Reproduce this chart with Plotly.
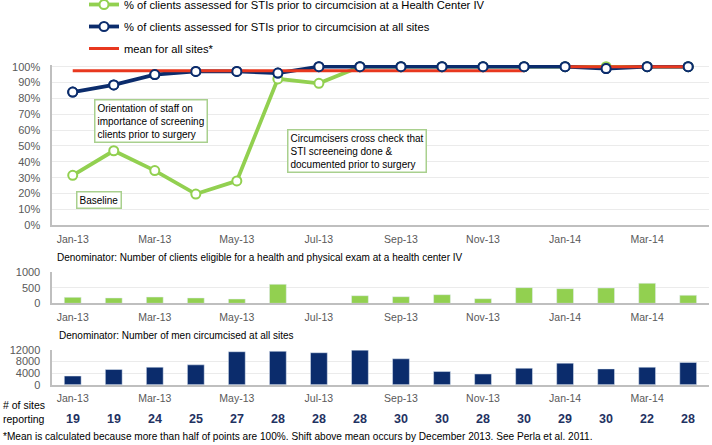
import plotly.graph_objects as go

# ---------------- data ----------------
months = ["Jan-13", "Feb-13", "Mar-13", "Apr-13", "May-13", "Jun-13", "Jul-13", "Aug-13",
          "Sep-13", "Oct-13", "Nov-13", "Dec-13", "Jan-14", "Feb-14", "Mar-14", "Apr-14"]
tick_months = ["Jan-13", "Mar-13", "May-13", "Jul-13", "Sep-13", "Nov-13", "Jan-14", "Mar-14"]

pct_ticks = [0, 10, 20, 30, 40, 50, 60, 70, 80, 90, 100]
pct_tick_labels = ["0%", "10%", "20%", "30%", "40%", "50%", "60%", "70%", "80%", "90%", "100%"]

hc_pct = [31.5, 47, 34.5, 19.7, 28, 92.3, 89.5, 100, 100, 100, 100, 100, 100, 100, 100, 100]
all_pct = [84, 88.5, 95, 97, 97, 96, 100, 100, 100, 100, 100, 100, 100, 98.8, 100, 100]
mean_pct = [97.5, 97.5, 97.5, 97.5, 97.5, 97.5, 97.5, 97.5, 97.5, 97.5, 97.5, 97.5,
            100, 100, 100, 100]
mean_period = ["2013"] * 12 + ["2014"] * 4

hc_eligible = [190, 170, 200, 170, 137, 607, None, 243, 211, 275, 147, 500, 467, 490, 640, 256]
men_circumcised = [3000, 5250, 6050, 6870, 11400, 11550, 11060, 11950, 8960, 4550, 3710,
                   5700, 7450, 5460, 6050, 7700]
sites_reporting = [19, 19, 24, 25, 27, 28, 28, 28, 30, 30, 28, 30, 29, 30, 22, 28]

# ---------------- style ----------------
W, H = 712, 445
GREEN = "#92D050"
NAVY = "#0B2C6C"
RED = "#E8381F"
BOX = "#A9D08E"
GRID = "#EBEBEB"
AXIS = "#BFBFBF"
TICK = "#595959"
FONT = "Arial, Liberation Sans, sans-serif"


def px(x):
    return x / W


def py(y):
    return 1 - y / H


fig = go.Figure()

# top chart
fig.add_trace(go.Scatter(x=months, y=hc_pct, mode="lines+markers", name="% of clients assessed for STIs prior to circumcision at a Health Center IV",
                         line=dict(color=GREEN, width=3.8),
                         marker=dict(size=9, color="white", line=dict(color=GREEN, width=2)),
                         legendgroup="g1", cliponaxis=False, xaxis="x", yaxis="y"))
fig.add_trace(go.Scatter(x=months, y=all_pct, mode="lines+markers", name="% of clients assessed for STIs prior to circumcision at all sites",
                         line=dict(color=NAVY, width=3.8),
                         marker=dict(size=9, color="white", line=dict(color=NAVY, width=2)),
                         legendgroup="g2", cliponaxis=False, xaxis="x", yaxis="y"))
first = True
for period in ["2013", "2014"]:
    xs = [m for m, p in zip(months, mean_period) if p == period]
    ys = [v for v, p in zip(mean_pct, mean_period) if p == period]
    fig.add_trace(go.Scatter(x=xs, y=ys, mode="lines", name="mean for all sites*",
                             line=dict(color=RED, width=3), legendgroup="g3",
                             showlegend=first, cliponaxis=False, xaxis="x", yaxis="y"))
    first = False
# blue markers on top of the mean line
fig.add_trace(go.Scatter(x=months, y=all_pct, mode="markers", showlegend=False,
                         marker=dict(size=9, color="white", line=dict(color=NAVY, width=2)),
                         cliponaxis=False, hoverinfo="skip", xaxis="x", yaxis="y"))

# middle chart
fig.add_trace(go.Bar(x=months, y=hc_eligible, marker_color=GREEN, showlegend=False,
                     xaxis="x2", yaxis="y2"))
# bottom chart
fig.add_trace(go.Bar(x=months, y=men_circumcised, marker_color=NAVY, showlegend=False,
                     xaxis="x3", yaxis="y3"))

xdom = [px(52.2), px(708.7)]
common_x = dict(type="category", categoryorder="array", categoryarray=months,
                range=[-0.5, 15.5], domain=xdom, showline=True, linecolor=AXIS, linewidth=1.5,
                showgrid=False, tickmode="array", tickvals=tick_months, ticktext=tick_months,
                tickfont=dict(size=10.5, color=TICK, family=FONT), ticks="",
                ticklabelstandoff=3, fixedrange=True, automargin=False)
common_y = dict(showline=True, linecolor=AXIS, linewidth=1.5, showgrid=True, gridcolor=GRID,
                gridwidth=1, zeroline=False, ticks="",
                tickfont=dict(size=11, color=TICK, family=FONT), ticklabelstandoff=8,
                fixedrange=True, automargin=False)

fig.update_layout(
    width=W, height=H,
    margin=dict(l=0, r=0, t=0, b=0, autoexpand=False),
    paper_bgcolor="white", plot_bgcolor="white",
    font=dict(family=FONT, color="#000000"),
    bargap=0.59,
    xaxis=dict(**common_x, anchor="y"),
    yaxis=dict(**common_y, domain=[py(225.3), py(65.1)], range=[0, 101],
               tickmode="array", tickvals=pct_ticks, ticktext=pct_tick_labels, anchor="x"),
    xaxis2=dict(**common_x, anchor="y2"),
    yaxis2=dict(**common_y, domain=[py(303.3), py(272)], range=[0, 1000],
                tickmode="array", tickvals=[0, 500, 1000], tickformat="d", anchor="x2"),
    xaxis3=dict(**common_x, anchor="y3"),
    yaxis3=dict(**common_y, domain=[py(384.7), py(350)], range=[0, 12000],
                tickmode="array", tickvals=[0, 4000, 8000, 12000], tickformat="d", anchor="x3"),
    legend=dict(x=px(84), y=py(-10), xanchor="left", yanchor="top", orientation="v",
                font=dict(size=11.2, color="#000000", family=FONT), bgcolor="rgba(0,0,0,0)",
                borderwidth=0, tracegroupgap=3, itemwidth=30),
)

annotations = []
box = dict(xref="paper", yref="paper", xanchor="left", yanchor="top", align="left",
           showarrow=False, bordercolor=BOX, borderwidth=1.5, borderpad=2, bgcolor="white",
           font=dict(size=10, color="#000000", family=FONT))
annotations.append(dict(**box, x=px(94), y=py(99),
                        text="Orientation of staff on<br>importance of screening<br>clients prior to surgery"))
annotations.append(dict(**box, x=px(287), y=py(129),
                        text="Circumcisers cross check that<br>STI screeneing done &<br>documented prior to surgery"))
annotations.append(dict(**box, x=px(76), y=py(191.5), text="Baseline"))

plain = dict(xref="paper", yref="paper", xanchor="left", yanchor="middle", showarrow=False,
             font=dict(size=10, color="#000000", family=FONT))
annotations.append(dict(**plain, x=px(55), y=py(257.7),
                        text="Denominator: Number of clients eligible for a health and physical exam at a health center IV"))
annotations.append(dict(**plain, x=px(57), y=py(335.7),
                        text="Denominator: Number of men circumcised at all sites"))
label = dict(xref="paper", yref="paper", xanchor="left", yanchor="middle", showarrow=False,
             font=dict(size=10.5, color="#000000", family=FONT))
annotations.append(dict(**label, x=px(1), y=py(405.3), text="# of sites"))
annotations.append(dict(**label, x=px(1), y=py(419), text="reporting"))
annotations.append(dict(xref="paper", yref="paper", xanchor="left", yanchor="middle",
                        showarrow=False, font=dict(size=10.1, color="#000000", family=FONT),
                        x=px(1), y=py(436.7),
                        text="*Mean is calculated because more than half of points are 100%. Shift above mean occurs by December 2013. See Perla et al. 2011."))

for m, n in zip(months, sites_reporting):
    annotations.append(dict(x=m, y=py(418.5), xref="x3", yref="paper", xanchor="center",
                            yanchor="middle", showarrow=False, text="<b>%d</b>" % n,
                            font=dict(size=12.5, color="#1F3262", family=FONT)))

fig.update_layout(annotations=annotations)

fig.write_html("out.html", config={"displayModeBar": False},
               post_script="document.body.style.margin='0';")
